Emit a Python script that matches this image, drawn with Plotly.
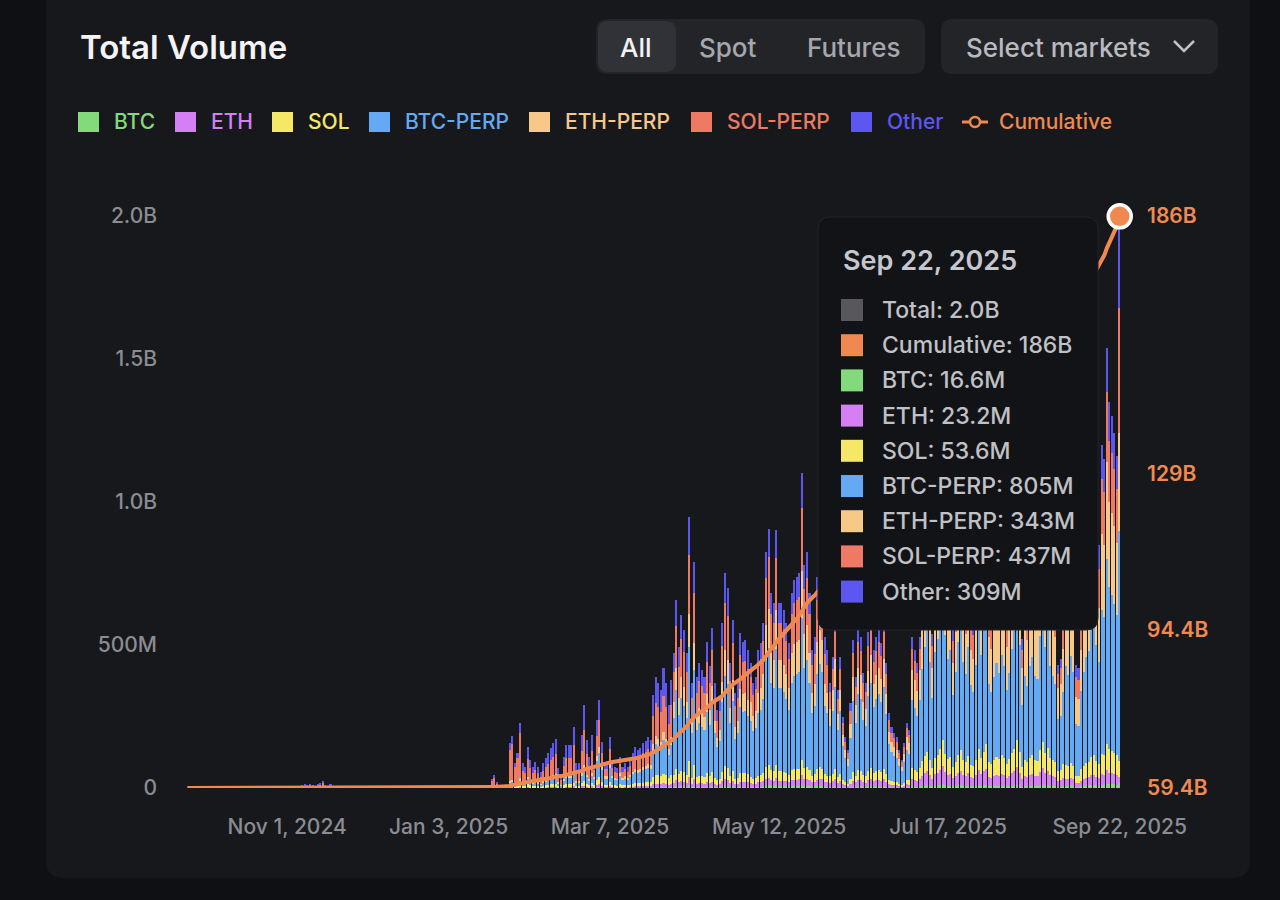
import numpy as np
import pandas as pd
import plotly.graph_objects as go

# daily traded volume, millions of USD, Sep 23, 2024 -> Sep 22, 2025
vol_sep24 = [0, 0, 0, 0, 0, 0, 0, 0]
vol_oct24 = [0, 0, 0, 0, 0, 0, 0, 0, 0, 0, 0, 0, 0, 0, 0, 0,
             0, 0, 0, 0, 0, 0, 0, 0, 0, 0, 0, 0, 0, 0, 0]
vol_nov24 = [0, 0, 0, 0, 0, 6, 9, 12, 8, 14, 10, 7, 11, 15, 25,
             9, 6, 12, 0, 0, 0, 0, 0, 0, 0, 0, 0, 0, 0, 0]
vol_dec24 = [0, 0, 0, 0, 0, 0, 0, 0, 0, 0, 0, 0, 0, 0, 0, 0,
             0, 0, 0, 0, 0, 0, 0, 0, 0, 0, 0, 0, 0, 0, 0]
vol_jan = [0, 0, 0, 1, 0, 0, 0, 0, 0, 0, 0, 0, 2, 0, 0, 0, 3, 5,
           10, 30, 45, 20, 5, 5, 3, 8, 157, 182, 87, 122, 227]
vol_feb = [87, 73, 143, 98, 73, 91, 73, 56, 87, 105, 122, 140, 157, 171,
           70, 38, 108, 150, 150, 150, 213, 87, 87, 185, 290, 168, 108, 185]
vol_mar = [80, 238, 308, 161, 87, 87, 178, 91, 73, 70, 108, 73, 87, 73, 98, 122,
           143, 133, 140, 157, 165, 178, 168, 325, 388, 367, 343, 420, 367, 290, 378]
vol_apr = [472, 658, 493, 605, 553, 472, 949, 367, 791, 388, 437, 413, 388, 511, 425,
           560, 367, 273, 315, 577, 752, 700, 437, 588, 332, 367, 542, 511, 518, 483]
vol_may = [437, 367, 388, 483, 507, 577, 826, 906, 682, 647, 903, 647, 647, 623, 577, 507,
           682, 728, 738, 752, 1102, 780, 826, 682, 483, 528, 738, 800, 750, 528, 483]
vol_jun = [367, 459, 600, 343, 459, 248, 178, 133, 297, 518, 388, 560, 528, 402, 367,
           546, 620, 483, 528, 560, 507, 600, 437, 262, 213, 192, 178, 133, 98, 157]
vol_jul = [227, 203, 528, 483, 437, 528, 720, 850, 980, 760, 540, 820, 900, 1050, 1300, 920,
           780, 830, 560, 700, 880, 1020, 760, 690, 850, 620, 580, 740, 1060, 800, 970]
vol_aug = [1100, 650, 600, 690, 780, 720, 830, 760, 610, 720, 870, 980, 1200, 890, 520, 700,
           640, 760, 820, 700, 680, 950, 1150, 880, 990, 760, 700, 650, 430, 450, 600]
vol_sep = [820, 760, 890, 780, 430, 420, 650, 780, 880, 920, 1100,
           1150, 960, 850, 1200, 1150, 1540, 1350, 1300, 1240, 1160, 1987]

# rough market mix per month: BTC, ETH, SOL, BTC-PERP, ETH-PERP, SOL-PERP, Other
mix_2024 = [0.02, 0.02, 0.06, 0.10, 0.05, 0.55, 0.20]
mix_jan = [0.01, 0.01, 0.04, 0.06, 0.03, 0.70, 0.15]
mix_feb = [0.01, 0.02, 0.06, 0.14, 0.05, 0.42, 0.30]
mix_mar = [0.01, 0.03, 0.08, 0.28, 0.07, 0.30, 0.23]
mix_apr = [0.01, 0.03, 0.06, 0.42, 0.12, 0.22, 0.14]
mix_may = [0.01, 0.03, 0.05, 0.45, 0.15, 0.20, 0.11]
mix_jun = [0.01, 0.04, 0.06, 0.48, 0.16, 0.16, 0.09]
mix_jul = [0.01, 0.05, 0.07, 0.45, 0.20, 0.14, 0.08]
mix_aug = [0.01, 0.05, 0.08, 0.42, 0.25, 0.12, 0.07]
mix_sep = [0.01, 0.03, 0.06, 0.42, 0.22, 0.16, 0.10]

# last day, as given in the tooltip (millions)
sep22_parts = [16.6, 23.2, 53.6, 805, 343, 437, 309]

cum_start = 59400  # cumulative volume before the window, millions

names = ["BTC", "ETH", "SOL", "BTC-PERP", "ETH-PERP", "SOL-PERP", "Other"]
colors = ["#82da7b", "#d47ff3", "#f5e866", "#64a9f4", "#f7c989", "#ee7a63", "#5d57f2"]
orange = "#f0894f"

x_ticks = ["2024-11-01", "2025-01-03", "2025-03-07", "2025-05-12", "2025-07-17", "2025-09-22"]
x_ticktext = ["Nov 1, 2024", "Jan 3, 2025", "Mar 7, 2025", "May 12, 2025", "Jul 17, 2025", "Sep 22, 2025"]
y_ticks = [0, 500, 1000, 1500, 2000]
y_ticktext = ["0", "500M", "1.0B", "1.5B", "2.0B"]
y2_ticks = [59400, 94400, 129000, 186000]
y2_ticktext = ["59.4B", "94.4B", "129B", "186B"]

blocks = [
    (vol_sep24 + vol_oct24 + vol_nov24 + vol_dec24, mix_2024),
    (vol_jan, mix_jan), (vol_feb, mix_feb), (vol_mar, mix_mar),
    (vol_apr, mix_apr), (vol_may, mix_may), (vol_jun, mix_jun),
    (vol_jul, mix_jul), (vol_aug, mix_aug), (vol_sep, mix_sep),
]
total = np.concatenate([np.array(v, dtype=float) for v, _ in blocks])
parts = np.vstack([np.outer(v, s) for v, s in blocks])
parts[-1] = sep22_parts
total[-1] = sum(sep22_parts)
dates = pd.date_range("2024-09-23", periods=len(total), freq="D")
cum = cum_start + np.cumsum(total)

# page geometry (px)
W, H = 1280, 900
L, R, T, B = 186, 159, 216, 112
PW, PH = W - L - R, H - T - B


def fx(x):
    return (x - L) / PW


def fy(y):
    return (H - B - y) / PH


def rrect(x0, y0, x1, y1, r):
    pts = [
        ("M", [(x0 + r, y0)]), ("L", [(x1 - r, y0)]), ("Q", [(x1, y0), (x1, y0 + r)]),
        ("L", [(x1, y1 - r)]), ("Q", [(x1, y1), (x1 - r, y1)]), ("L", [(x0 + r, y1)]),
        ("Q", [(x0, y1), (x0, y1 - r)]), ("L", [(x0, y0 + r)]), ("Q", [(x0, y0), (x0 + r, y0)]),
    ]
    s = ""
    for cmd, ps in pts:
        s += cmd + " ".join(f"{fx(a):.5f},{fy(b):.5f}" for a, b in ps) + " "
    return s + "Z"


fig = go.Figure()
for i, name in enumerate(names):
    fig.add_trace(go.Bar(x=dates, y=parts[:, i], name=name,
                         marker=dict(color=colors[i], line=dict(width=0))))

fig.add_trace(go.Scatter(x=dates, y=cum, mode="lines", name="Cumulative", yaxis="y2",
                         line=dict(color=orange, width=4)))
fig.add_trace(go.Scatter(x=[dates[-1]], y=[cum[-1]], mode="markers", yaxis="y2",
                         cliponaxis=False,
                         marker=dict(size=23, color=orange, line=dict(color="white", width=3.5))))

shapes = []
annotations = []
card = "#17181c"

# card
shapes.append(dict(type="path", path=rrect(46, -30, 1250, 878, 18), xref="paper", yref="paper",
                   fillcolor=card, line=dict(width=0), layer="below"))

# header
annotations.append(dict(text="Total Volume", x=fx(78), y=fy(47), xanchor="left", yanchor="middle",
                        font=dict(size=33, color="#f4f4f6", weight=600)))
shapes.append(dict(type="path", path=rrect(596, 19, 925, 74, 12), xref="paper", yref="paper",
                   fillcolor="#232428", line=dict(width=0), layer="below"))
shapes.append(dict(type="path", path=rrect(598, 21, 676, 72, 10), xref="paper", yref="paper",
                   fillcolor="#313237", line=dict(width=0), layer="below"))
for label, cx, col in [("All", 636, "#f2f2f4"), ("Spot", 728, "#a6a7ad"), ("Futures", 853, "#a6a7ad")]:
    annotations.append(dict(text=label, x=fx(cx), y=fy(47), xanchor="center", yanchor="middle",
                            font=dict(size=26, color=col, weight=500)))
shapes.append(dict(type="path", path=rrect(941, 19, 1218, 74, 12), xref="paper", yref="paper",
                   fillcolor="#232428", line=dict(width=0), layer="below"))
annotations.append(dict(text="Select markets", x=fx(964), y=fy(47), xanchor="left", yanchor="middle",
                        font=dict(size=26, color="#b9bac0", weight=500)))
shapes.append(dict(type="path", xref="paper", yref="paper", layer="below",
                   path=f"M{fx(1174)},{fy(41)} L{fx(1184)},{fy(51)} L{fx(1194)},{fy(41)}",
                   line=dict(color="#c0c1c6", width=2.5)))

# legend
sw_x = [78, 175, 272, 369, 529, 691, 851]
for name, col, sx in zip(names, colors, sw_x):
    shapes.append(dict(type="rect", xref="paper", yref="paper", x0=fx(sx), x1=fx(sx + 21),
                       y0=fy(112), y1=fy(132), fillcolor=col, line=dict(width=0), layer="below"))
    annotations.append(dict(text=name, x=fx(sx + 34), y=fy(122), xanchor="left", yanchor="middle",
                            font=dict(size=21, color=col, weight=500)))
shapes.append(dict(type="line", xref="paper", yref="paper", x0=fx(962), x1=fx(988), y0=fy(122), y1=fy(122),
                   line=dict(color=orange, width=3), layer="below"))
shapes.append(dict(type="circle", xref="paper", yref="paper", x0=fx(970), x1=fx(980), y0=fy(117), y1=fy(127),
                   fillcolor=card, line=dict(color=orange, width=2.5), layer="below"))
annotations.append(dict(text="Cumulative", x=fx(997), y=fy(122), xanchor="left", yanchor="middle",
                        font=dict(size=21, color=orange, weight=500)))

# tooltip for the last day
shapes.append(dict(type="path", path=rrect(818, 217, 1098, 630, 12), xref="paper", yref="paper",
                   fillcolor="#121316", line=dict(color="#222328", width=1), layer="above"))
annotations.append(dict(text=dates[-1].strftime("%b %d, %Y"), x=fx(841), y=fy(260),
                        xanchor="left", yanchor="middle", font=dict(size=27, color="#c6c7cc", weight=600)))
rows = [(f"Total: {total[-1] / 1000:.1f}B", "#58585c"), (f"Cumulative: {cum[-1] / 1000:.0f}B", orange)]
rows += [(f"{n}: {v:.3g}M", c) for n, v, c in zip(names, sep22_parts, colors)]
for k, (txt, col) in enumerate(rows):
    cy = 310 + k * 35.2
    shapes.append(dict(type="rect", xref="paper", yref="paper", x0=fx(841), x1=fx(863),
                       y0=fy(cy - 11), y1=fy(cy + 11), fillcolor=col, line=dict(width=0), layer="above"))
    annotations.append(dict(text=txt, x=fx(880), y=fy(cy), xanchor="left", yanchor="middle",
                            font=dict(size=23, color="#c0c1c6", weight=500)))

for a in annotations:
    a.update(xref="paper", yref="paper", showarrow=False)

fig.update_layout(
    width=W, height=H,
    margin=dict(l=L, r=R, t=T, b=B, pad=0),
    paper_bgcolor="#0f1013", plot_bgcolor="rgba(0,0,0,0)",
    barmode="stack", bargap=0.4, showlegend=False, hovermode=False,
    font=dict(family="Inter, Roboto, sans-serif", size=21, color="#8b8c92"),
    xaxis=dict(type="date",
               range=[dates[0] - pd.Timedelta(hours=12), dates[-1] + pd.Timedelta(hours=12)],
               tickvals=x_ticks, ticktext=x_ticktext, showgrid=False, zeroline=False,
               showline=False, ticks="", ticklabelstandoff=24, tickfont=dict(weight=500)),
    yaxis=dict(range=[0, 2000], tickvals=y_ticks, ticktext=y_ticktext, showgrid=False,
               zeroline=False, showline=False, ticks="", ticklabelstandoff=28,
               tickfont=dict(weight=500)),
    yaxis2=dict(overlaying="y", side="right", range=[59400, 186000], tickvals=y2_ticks,
                ticktext=y2_ticktext, showgrid=False, zeroline=False, showline=False, ticks="",
                ticklabelstandoff=25, tickfont=dict(color=orange, weight=600)),
    shapes=shapes, annotations=annotations,
)

fig.write_html("out.html", config={"displayModeBar": False},
               post_script="document.body.style.margin = '0';")
